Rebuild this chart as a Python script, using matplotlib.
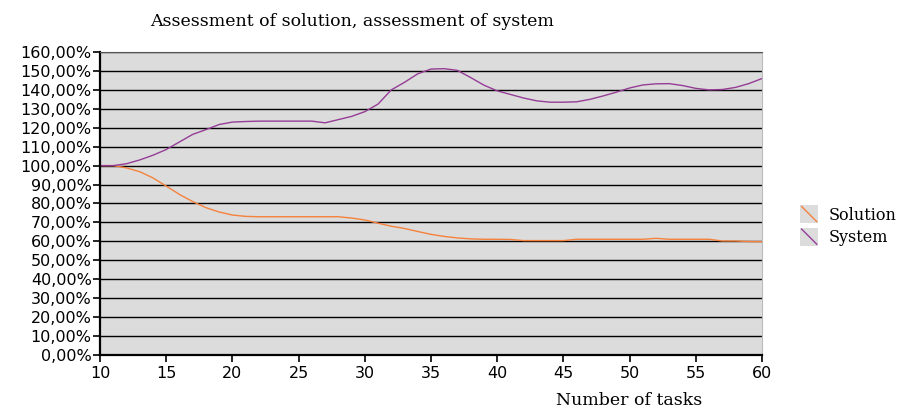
import numpy as np
import matplotlib
matplotlib.use("Agg")
import matplotlib.pyplot as plt
from matplotlib.legend_handler import HandlerBase
from matplotlib.patches import Rectangle
from matplotlib.lines import Line2D
from matplotlib.ticker import FuncFormatter, MultipleLocator

# Daten (x = Anzahl der Aufgaben)
tasks = list(range(10, 61))
solution = [100, 100, 98.8, 96.8, 93.5, 89.2, 84.8, 81, 77.8, 75.5,
            73.9, 73.2, 73, 73, 73, 73, 73, 73, 73, 72.3,
            71.3, 69.6, 68, 66.8, 65.2, 63.7, 62.6, 61.8, 61.3, 61.1,
            61.1, 61, 60.4, 60.4, 60.4, 60.4, 61.1, 61.1, 61.1, 61.1,
            61.1, 61.1, 61.6, 61.1, 61.1, 61.1, 61.1, 60.2, 60.2, 59.9,
            59.8]
system = [100, 100, 101, 103, 105.5, 108.5, 112.5, 116.5, 119, 121.7,
          123, 123.3, 123.5, 123.5, 123.5, 123.5, 123.5, 122.6, 124.3, 126,
          128.5, 132.5, 140, 144, 148.5, 151, 151.2, 150.3, 146.5, 142.5,
          139.5, 137.6, 135.7, 134.2, 133.5, 133.5, 133.7, 135, 136.8, 138.8,
          141, 142.6, 143.2, 143.3, 142.3, 140.8, 140, 140.2, 141.3, 143.3,
          146]
labels = ["Solution", "System"]
colors = ["#f5823c", "#953d96"]


class DiagHandler(HandlerBase):
    # graues Kaestchen mit schraeger Linie, wie im Excel-Diagramm
    def create_artists(self, legend, orig_handle, xdescent, ydescent,
                       width, height, fontsize, trans):
        s = height * 1.6
        x0 = -xdescent + (width - s) / 2
        y0 = -ydescent + (height - s) / 2
        rect = Rectangle((x0, y0), s, s, facecolor="#dcdcdc",
                         edgecolor="none", transform=trans)
        ln = Line2D([x0 + 1, x0 + s - 1], [y0 + s - 1, y0 + 1],
                    color=orig_handle.get_color(), lw=1.0, transform=trans)
        return [rect, ln]


fig = plt.figure(figsize=(9.06, 4.08), dpi=100)
ax = fig.add_axes([0.1104, 0.130, 0.7306, 0.7425])
ax.set_facecolor("#dcdcdc")

l1, = ax.plot(tasks, solution, color=colors[0], lw=1.0)
l2, = ax.plot(tasks, system, color=colors[1], lw=1.0)

ax.set_xlim(10, 60)
ax.set_ylim(0, 160)
ax.yaxis.set_major_locator(MultipleLocator(10))
ax.xaxis.set_major_locator(MultipleLocator(5))
ax.yaxis.set_major_formatter(FuncFormatter(lambda v, p: f"{v:.2f}%".replace(".", ",")))
ax.grid(axis="y", color="black", lw=1.0)
ax.set_axisbelow(True)

for side in ["left", "bottom"]:
    ax.spines[side].set_linewidth(1.6)
    ax.spines[side].set_color("black")
ax.spines["top"].set_color("#555555")
ax.spines["right"].set_color("#bbbbbb")
ax.tick_params(axis="both", direction="out", length=5, width=1.2,
               labelsize=11.5, pad=1)
ax.tick_params(axis="x", pad=3)

fig.text(0.389, 0.948, "Assessment of solution, assessment of system",
         family="DejaVu Serif", fontsize=12.5, ha="center", va="center")
fig.text(0.694, 0.018, "Number of tasks", family="DejaVu Serif",
         fontsize=12.5, ha="center", va="center")

leg = fig.legend([l1, l2], labels, handler_map={Line2D: DiagHandler()},
                 loc="center left", bbox_to_anchor=(0.872, 0.445),
                 frameon=False, prop={"family": "DejaVu Serif", "size": 11.5},
                 handlelength=1.2, handletextpad=0.6, labelspacing=0.35,
                 borderpad=0.1)

fig.savefig("out.png", dpi=100)
